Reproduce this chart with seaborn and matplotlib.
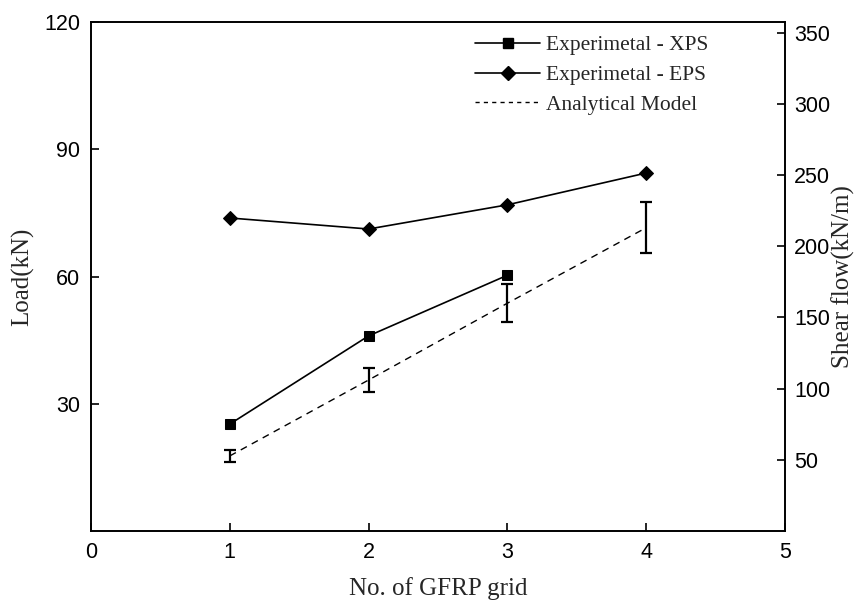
import matplotlib
matplotlib.use("Agg")
import matplotlib.pyplot as plt
import seaborn as sns
import pandas as pd
from matplotlib.lines import Line2D

grid_xps = [1, 2, 3]
load_xps = [25.2, 46.0, 60.3]
grid_eps = [1, 2, 3, 4]
load_eps = [73.8, 71.2, 76.9, 84.4]
grid_model = [1, 2, 3, 4]
load_model = [17.7, 35.6, 53.7, 71.5]
err_model = [1.5, 2.9, 4.5, 6.0]

sns.set_style("ticks")
plt.rcParams['font.family'] = ['Liberation Sans', 'DejaVu Sans']
serif = ['Liberation Serif', 'DejaVu Serif']

fig = plt.figure(figsize=(8.56, 6.05), dpi=100)
ax = fig.add_axes([0.1063, 0.1223, 0.917 - 0.1063, 0.9636 - 0.1223])

df_xps = pd.DataFrame({"x": grid_xps, "y": load_xps})
df_eps = pd.DataFrame({"x": grid_eps, "y": load_eps})
df_mod = pd.DataFrame({"x": grid_model, "y": load_model})

sns.lineplot(data=df_xps, x="x", y="y", ax=ax, color="black", lw=1.2,
             marker="s", markersize=7, markeredgecolor="black")
sns.lineplot(data=df_eps, x="x", y="y", ax=ax, color="black", lw=1.2,
             marker="D", markersize=7.5, markeredgecolor="black")
sns.lineplot(data=df_mod, x="x", y="y", ax=ax, color="black", lw=1.0,
             linestyle=(0, (5, 4)))
ax.errorbar(grid_model, load_model, yerr=err_model, fmt="none",
            ecolor="black", elinewidth=1.6, capsize=4.5, capthick=1.6)

ax.set_xlim(0, 5)
ax.set_ylim(0, 120)
ax.set_xticks([0, 1, 2, 3, 4, 5])
ax.set_yticks([30, 60, 90, 120])
ax.tick_params(direction="in", length=6, width=1.2, labelsize=15.5, pad=8, colors="black")
ax.tick_params(axis="y", pad=8)
for s in ax.spines.values():
    s.set_linewidth(1.2)
    s.set_color("black")
ax.set_xlabel("No. of GFRP grid", family=serif, fontsize=18, labelpad=10)
ax.set_ylabel("Load(kN)", family=serif, fontsize=18, labelpad=7)

ax2 = ax.twinx()
ax2.set_ylim(0, 357.5)
ax2.set_yticks([50, 100, 150, 200, 250, 300, 350])
ax2.tick_params(direction="in", length=6, width=1.2, labelsize=15.5, pad=6.5, colors="black")
ax2.set_ylabel("Shear flow(kN/m)", family=serif, fontsize=18, labelpad=1)
for s in ax2.spines.values():
    s.set_linewidth(1.2)
    s.set_color("black")

handles = [
    Line2D([], [], color="black", lw=1.2, marker="s", markersize=7),
    Line2D([], [], color="black", lw=1.2, marker="D", markersize=7.5),
    Line2D([], [], color="black", lw=1.0, linestyle=(0, (3, 3))),
]
labels = ["Experimetal - XPS", "Experimetal - EPS", "Analytical Model"]
ax.legend(handles, labels, loc="upper right", bbox_to_anchor=(0.918, 1.012),
          frameon=False, prop={"family": serif, "size": 15.5},
          handlelength=3.0, labelspacing=0.45, handletextpad=0.3)

fig.savefig("out.png", dpi=100)
